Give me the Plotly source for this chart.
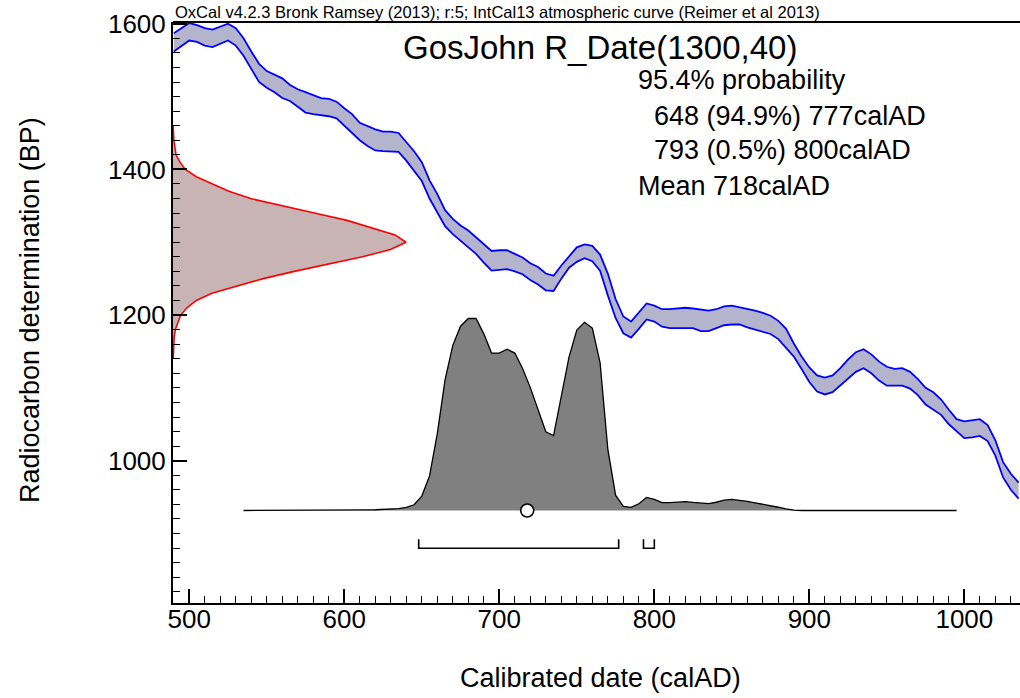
import plotly.graph_objects as go

# ---------------- data ----------------
# Calibration curve (IntCal13) 1-sigma envelope
curve_year = [490, 495, 500, 505, 510, 515, 520, 525, 530, 535, 540, 545, 550, 555, 560, 565,
              570, 575, 580, 585, 590, 595, 600, 605, 610, 615, 620, 625, 630, 635, 640, 645,
              650, 655, 660, 665, 670, 675, 680, 685, 690, 695, 700, 705, 710, 715, 720, 725,
              730, 735, 740, 745, 750, 755, 760, 765, 770, 775, 780, 785, 790, 795, 800, 805,
              810, 815, 820, 825, 830, 835, 840, 845, 850, 855, 860, 865, 870, 875, 880, 885,
              890, 895, 900, 905, 910, 915, 920, 925, 930, 935, 940, 945, 950, 955, 960, 965,
              970, 975, 980, 985, 990, 995, 1000, 1005, 1010, 1015, 1020, 1025, 1030, 1035]
curve_upper = [1587, 1594, 1601, 1598, 1594, 1592, 1596, 1600, 1594, 1580, 1562, 1545, 1535, 1530, 1525, 1516,
               1510, 1506, 1502, 1498, 1497, 1493, 1484, 1476, 1464, 1459, 1455, 1452, 1452, 1450, 1438, 1425,
               1410, 1385, 1366, 1344, 1332, 1323, 1316, 1307, 1298, 1288, 1289, 1289, 1284, 1279, 1271, 1266,
               1257, 1254, 1268, 1281, 1293, 1297, 1295, 1283, 1257, 1222, 1198, 1191, 1203, 1216, 1213, 1208,
               1208, 1209, 1210, 1209, 1207, 1206, 1208, 1212, 1213, 1211, 1208, 1206, 1203, 1199, 1192, 1181,
               1161, 1143, 1128, 1117, 1114, 1117, 1127, 1139, 1149, 1153, 1146, 1136, 1129, 1126, 1127, 1122,
               1112, 1100, 1094, 1084, 1070, 1057, 1054, 1055, 1057, 1049, 1028, 998, 982, 970]
curve_lower = [1562, 1570, 1577, 1575, 1570, 1568, 1572, 1577, 1570, 1556, 1538, 1520, 1512, 1506, 1498, 1494,
               1486, 1478, 1476, 1475, 1473, 1470, 1460, 1450, 1440, 1432, 1426, 1425, 1424, 1424, 1412, 1398,
               1384, 1360, 1340, 1322, 1311, 1302, 1293, 1284, 1272, 1261, 1262, 1263, 1260, 1256, 1248, 1242,
               1234, 1233, 1250, 1265, 1273, 1278, 1274, 1261, 1227, 1196, 1175, 1169, 1181, 1194, 1191, 1184,
               1182, 1182, 1183, 1182, 1178, 1178, 1182, 1186, 1187, 1187, 1183, 1180, 1176, 1174, 1167, 1155,
               1143, 1126, 1108, 1095, 1091, 1094, 1103, 1113, 1122, 1127, 1120, 1110, 1103, 1103, 1103, 1099,
               1090, 1077, 1070, 1063, 1050, 1040, 1031, 1032, 1034, 1027, 1007, 977, 960, 948]

# Radiocarbon measurement R_Date(1300,40): relative probability by BP
rdate_bp = [1140, 1150, 1160, 1170, 1180, 1190, 1200, 1210, 1220, 1230, 1240, 1250, 1260, 1270, 1280,
            1290, 1300, 1310, 1320, 1330, 1340, 1350, 1360, 1370, 1380, 1390, 1400, 1410, 1420, 1430,
            1440, 1450, 1460]
rdate_prob = [0.001, 0.002, 0.003, 0.005, 0.01, 0.02, 0.033, 0.06, 0.1, 0.167, 0.273, 0.387, 0.52, 0.667, 0.813,
              0.933, 1.0, 0.953, 0.853, 0.747, 0.607, 0.467, 0.333, 0.24, 0.173, 0.1, 0.053, 0.03, 0.013, 0.007,
              0.004, 0.002, 0.001]

# Calibrated date: relative probability by calendar year
post_year = [535, 540, 545, 550, 555, 560, 565, 570, 575, 580, 585, 590, 595, 600, 605, 610, 615, 620, 625,
             630, 635, 640, 645, 650, 655, 660, 665, 670, 675, 680, 685, 690, 695, 700, 705, 710, 715, 720,
             725, 730, 735, 740, 745, 750, 755, 760, 765, 770, 775, 780, 785, 790, 795, 800, 805, 810, 815,
             820, 825, 830, 835, 840, 845, 850, 855, 860, 865, 870, 875, 880, 885, 890, 895, 900, 910, 920,
             930, 940, 950, 960, 970, 980, 990, 995]
post_prob = [0, 0, 0, 0, 0, 0, 0, 0, 0, 0, 0, 0.001, 0.001, 0.001, 0.002, 0.002, 0.003, 0.004, 0.005,
             0.007, 0.01, 0.016, 0.03, 0.075, 0.18, 0.4, 0.68, 0.86, 0.96, 1.0, 1.0, 0.92, 0.82, 0.82, 0.84,
             0.82, 0.74, 0.64, 0.53, 0.41, 0.39, 0.6, 0.8, 0.94, 0.98, 0.95, 0.77, 0.32, 0.08, 0.022, 0.016,
             0.035, 0.068, 0.058, 0.041, 0.041, 0.044, 0.046, 0.042, 0.038, 0.036, 0.043, 0.054, 0.058, 0.054,
             0.047, 0.04, 0.033, 0.025, 0.017, 0.008, 0.002, 0, 0, 0, 0, 0, 0, 0, 0, 0, 0, 0, 0]

# 95.4% ranges and mean
range_start = [648, 793]
range_end = [777, 800]
mean_year = 718

x_ticks = [500, 600, 700, 800, 900, 1000]
y_ticks = [1000, 1200, 1400, 1600]

header = "OxCal v4.2.3 Bronk Ramsey (2013); r:5; IntCal13 atmospheric curve (Reimer et al 2013)"
title = "GosJohn R_Date(1300,40)"
info_lines = ["95.4% probability", "648 (94.9%) 777calAD", "793 (0.5%) 800calAD", "Mean 718calAD"]

# ---------------- layout helpers (pixel geometry) ----------------
W, H = 1020, 698
L, R, T, B = 173, 0, 22, 95
PW, PH = W - L - R, H - T - B
FONT = "Liberation Sans, Arial, sans-serif"


def px(xp):
    return (xp - L) / PW


def py(yp):
    return (H - B - yp) / PH


fig = go.Figure()

# Radiocarbon measurement (red, on left side)
fig.add_trace(go.Scatter(x=rdate_prob, y=rdate_bp, xaxis="x2", yaxis="y", mode="lines",
                         line=dict(color="#ff0000", width=1.6), fill="tozerox",
                         fillcolor="#c8b4b4", hoverinfo="skip"))

# Calibration curve band
fig.add_trace(go.Scatter(x=curve_year, y=curve_lower, mode="lines",
                         line=dict(color="#0000ff", width=1.8), hoverinfo="skip"))
fig.add_trace(go.Scatter(x=curve_year, y=curve_upper, mode="lines", fill="tonexty",
                         fillcolor="#b4b4cc", line=dict(color="#0000ff", width=1.8), hoverinfo="skip"))

# Posterior calibrated distribution
fig.add_trace(go.Scatter(x=post_year, y=post_prob, xaxis="x", yaxis="y2", mode="lines",
                         line=dict(color="#000000", width=1.3), fill="tozeroy",
                         fillcolor="#808080", hoverinfo="skip"))

# Range brackets
bx, by = [], []
for s, e in zip(range_start, range_end):
    bx += [s, s, e, e, None]
    by += [-0.15, -0.197, -0.197, -0.15, None]
fig.add_trace(go.Scatter(x=bx, y=by, xaxis="x", yaxis="y2", mode="lines",
                         line=dict(color="#000000", width=1.6), hoverinfo="skip"))

# Mean marker
fig.add_trace(go.Scatter(x=[mean_year], y=[0], xaxis="x", yaxis="y2", mode="markers",
                         marker=dict(symbol="circle", size=13, color="white",
                                     line=dict(color="black", width=1.6)), hoverinfo="skip"))

# posterior axis: baseline at pixel 510.5, peak height 192 px
base_frac = (H - B - 510.5) / PH
unit_frac = 192.0 / PH
y2_range = [-base_frac / unit_frac, (1 - base_frac) / unit_frac]
# measurement axis: peak width 233 px
x2_range = [0, PW / 233.0]

fig.update_layout(
    width=W, height=H,
    margin=dict(l=L, r=R, t=T, b=B),
    paper_bgcolor="white", plot_bgcolor="white",
    showlegend=False,
    font=dict(family=FONT, color="black"),
    xaxis=dict(range=[489.5, 1035.9], tickmode="array", tickvals=x_ticks,
               ticktext=[str(v) for v in x_ticks],
               ticks="inside", ticklen=14, tickwidth=2, tickcolor="black",
               ticklabelstandoff=-8,
               minor=dict(tick0=500, dtick=10, ticks="inside", ticklen=7, tickwidth=1.3, tickcolor="black"),
               showline=True, linecolor="black", linewidth=2,
               showgrid=False, zeroline=False, tickfont=dict(size=26, family=FONT)),
    yaxis=dict(range=[804.6, 1602.4], tickmode="array", tickvals=y_ticks,
               ticktext=[str(v) for v in y_ticks],
               ticks="inside", ticklen=14, tickwidth=2, tickcolor="black",
               minor=dict(tick0=1000, dtick=20, ticks="inside", ticklen=7, tickwidth=1.3, tickcolor="black"),
               showline=True, linecolor="black", linewidth=2,
               showgrid=False, zeroline=False, tickfont=dict(size=26, family=FONT)),
    xaxis2=dict(range=x2_range, overlaying="x", visible=False, showgrid=False, zeroline=False),
    yaxis2=dict(range=y2_range, overlaying="y", visible=False, showgrid=False, zeroline=False),
    shapes=[dict(type="line", xref="paper", yref="paper", x0=0, x1=1, y0=1, y1=1,
                 line=dict(color="black", width=2))],
)

ann = [
    dict(text=header, x=px(173), y=py(12), xanchor="left", yanchor="middle", font=dict(size=16.5)),
    dict(text=title, x=px(600), y=py(47), xanchor="center", yanchor="middle", font=dict(size=33)),
    dict(text="Radiocarbon determination (BP)", x=px(30), y=py(310), textangle=-90,
         xanchor="center", yanchor="middle", font=dict(size=27)),
    dict(text="Calibrated date (calAD)", x=px(600), y=py(678), xanchor="center", yanchor="middle",
         font=dict(size=27)),
]
info_x = [636, 652, 652, 636]
info_y = [80, 116, 150, 186]
for t, xx, yy in zip(info_lines, info_x, info_y):
    ann.append(dict(text=t, x=px(xx), y=py(yy), xanchor="left", yanchor="middle",
                    font=dict(size=27)))
for a in ann:
    a.update(xref="paper", yref="paper", showarrow=False)
    a["font"]["family"] = FONT
    a["font"]["color"] = "black"
fig.update_layout(annotations=ann)

fig.write_html("out.html", config={"displayModeBar": False},
               post_script="document.body.style.margin='0';document.body.style.overflow='hidden';")
